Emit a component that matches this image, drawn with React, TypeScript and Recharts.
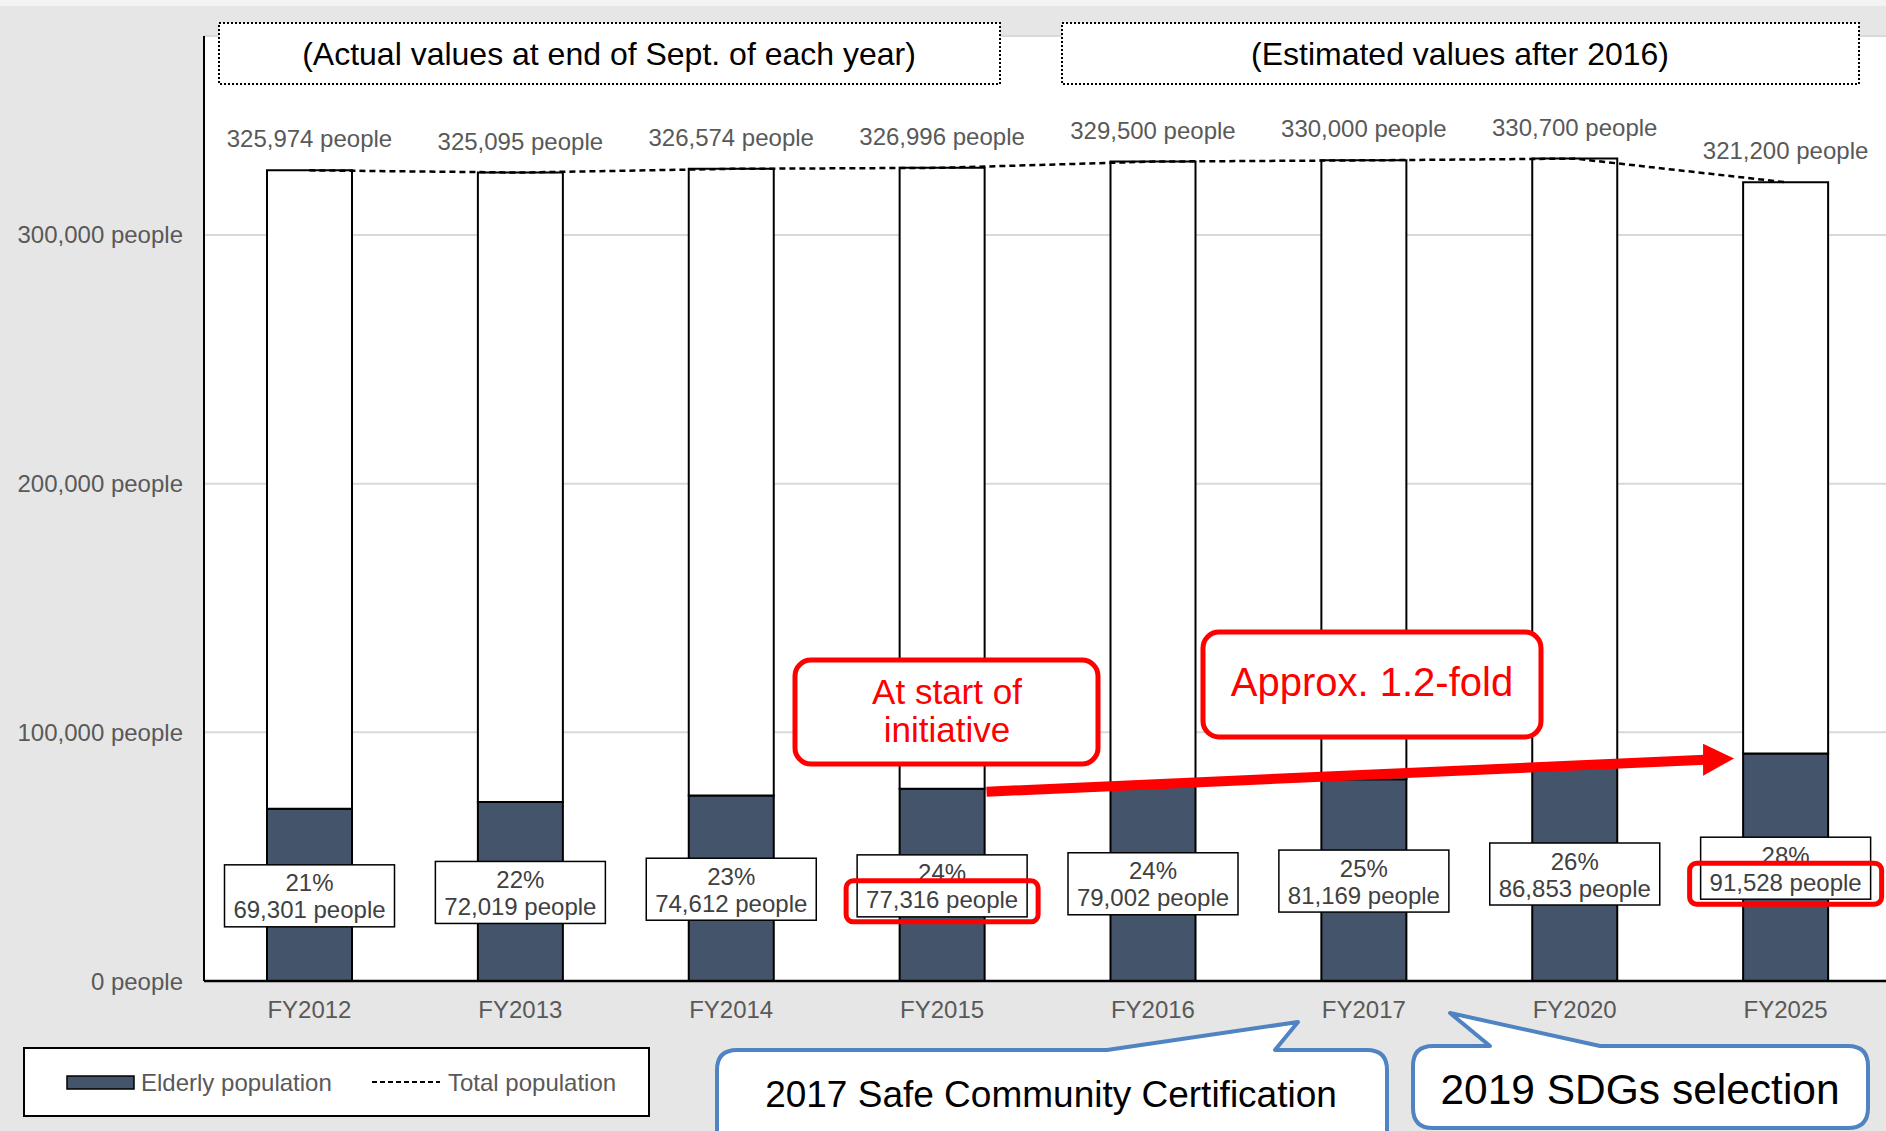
import React from "react";
import {
  ComposedChart,
  Bar,
  Line,
  XAxis,
  YAxis,
  CartesianGrid,
  LabelList,
  ReferenceLine,
} from "recharts";

const categories = ["FY2012", "FY2013", "FY2014", "FY2015", "FY2016", "FY2017", "FY2020", "FY2025"];
const totalPopulation = [325974, 325095, 326574, 326996, 329500, 330000, 330700, 321200];
const elderlyPopulation = [69301, 72019, 74612, 77316, 79002, 81169, 86853, 91528];
const elderlyShare = [21, 22, 23, 24, 24, 25, 26, 28];
const highlighted = ["FY2015", "FY2025"];
const yTicks = [0, 100000, 200000, 300000];

const FONT = "'Liberation Sans', Arial, Helvetica, sans-serif";
const DARK = "#44546a";
const GRAY_TEXT = "#595959";
const LABEL_TEXT = "#404040";
const BG = "#e6e6e6";
const BLUE = "#5083c2";
const BAR_SIZE = 85;

const data = categories.map((name, i) => ({
  name,
  elderly: elderlyPopulation[i],
  rest: totalPopulation[i] - elderlyPopulation[i],
  total: totalPopulation[i],
  share: elderlyShare[i],
}));

const fmt = (v: number) => `${v.toLocaleString("en-US")} people`;

// box with share + count, centred on the elderly segment
function ShareLabel(props: any) {
  const { x, y, width, height, index } = props;
  const d = data[index];
  if (!d) return null;
  const cx = x + width / 2;
  const cy = y + height / 2 + 1;
  const w = 170;
  const h = 62;
  return (
    <g>
      <rect x={cx - w / 2} y={cy - h / 2} width={w} height={h} fill="#fff" stroke="#000" strokeWidth={1.5} />
      <text x={cx} y={cy - 13} textAnchor="middle" dominantBaseline="central" fontSize={24} fill={LABEL_TEXT} fontFamily={FONT}>
        {`${d.share}%`}
      </text>
      <text x={cx} y={cy + 14} textAnchor="middle" dominantBaseline="central" fontSize={24} fill={LABEL_TEXT} fontFamily={FONT}>
        {fmt(d.elderly)}
      </text>
      {highlighted.includes(d.name) && (
        <rect x={cx - 96} y={cy - 5} width={192} height={41} rx={7} fill="none" stroke="#ff0000" strokeWidth={5} />
      )}
    </g>
  );
}

function GrowthArrow(props: any) {
  const { x1, y1, x2, y2 } = props;
  if (x1 == null || x2 == null) return null;
  const sx = x1 + BAR_SIZE / 2 + 2;
  const sy = y1 + 3;
  const tx = x2 - BAR_SIZE / 2 - 9;
  const ty = y2 + 5;
  const head = 31;
  const bx = tx - head;
  const by = sy + ((ty - sy) * (bx - sx)) / (tx - sx);
  return (
    <g>
      <line x1={sx} y1={sy} x2={bx + 2} y2={by} stroke="#ff0000" strokeWidth={10} />
      <polygon points={`${tx},${ty} ${bx},${by - 16} ${bx},${by + 16}`} fill="#ff0000" />
    </g>
  );
}

function Overlay() {
  return (
    <svg
      width={1886}
      height={1131}
      style={{ position: "absolute", left: 0, top: 0, pointerEvents: "none" }}
      fontFamily={FONT}
    >
      {/* header boxes */}
      <rect x={219} y={23} width={781} height={61} fill="#fff" stroke="#000" strokeWidth={2} strokeDasharray="2 2" />
      <text x={609} y={54} textAnchor="middle" dominantBaseline="central" fontSize={32} fill="#000">
        (Actual values at end of Sept. of each year)
      </text>
      <rect x={1062} y={23} width={797} height={61} fill="#fff" stroke="#000" strokeWidth={2} strokeDasharray="2 2" />
      <text x={1460} y={54} textAnchor="middle" dominantBaseline="central" fontSize={32} fill="#000">
        (Estimated values after 2016)
      </text>

      {/* red callouts */}
      <rect x={795} y={660} width={303} height={104} rx={16} fill="#fff" stroke="#ff0000" strokeWidth={5} />
      <text x={947} y={691} textAnchor="middle" dominantBaseline="central" fontSize={35} fill="#ff0000">
        At start of
      </text>
      <text x={947} y={729} textAnchor="middle" dominantBaseline="central" fontSize={35} fill="#ff0000">
        initiative
      </text>
      <rect x={1203} y={632} width={338} height={105} rx={16} fill="#fff" stroke="#ff0000" strokeWidth={5} />
      <text x={1372} y={682} textAnchor="middle" dominantBaseline="central" fontSize={40} fill="#ff0000">
        Approx. 1.2-fold
      </text>

      {/* legend */}
      <rect x={24} y={1048} width={625} height={68} fill="#fff" stroke="#000" strokeWidth={2} />
      <rect x={67} y={1076} width={67} height={13} fill={DARK} stroke="#000" strokeWidth={1.5} />
      <text x={141} y={1082} dominantBaseline="central" fontSize={24} fill={GRAY_TEXT}>
        Elderly population
      </text>
      <line x1={372} y1={1082} x2={440} y2={1082} stroke="#000" strokeWidth={2} strokeDasharray="5 3" />
      <text x={448} y={1082} dominantBaseline="central" fontSize={24} fill={GRAY_TEXT}>
        Total population
      </text>

      {/* blue callouts */}
      <path
        d="M 737 1050 L 1107 1050 L 1298 1022 L 1275 1050 L 1367 1050 Q 1387 1050 1387 1070 L 1387 1150 L 717 1150 L 717 1070 Q 717 1050 737 1050 Z"
        fill="#fff"
        stroke={BLUE}
        strokeWidth={4}
        strokeLinejoin="round"
      />
      <text x={1051} y={1094} textAnchor="middle" dominantBaseline="central" fontSize={37} fill="#000">
        2017 Safe Community Certification
      </text>
      <path
        d="M 1433 1046 L 1490 1046 L 1450 1013 L 1600 1046 L 1848 1046 Q 1868 1046 1868 1066 L 1868 1108 Q 1868 1128 1848 1128 L 1433 1128 Q 1413 1128 1413 1108 L 1413 1066 Q 1413 1046 1433 1046 Z"
        fill="#fff"
        stroke={BLUE}
        strokeWidth={4}
        strokeLinejoin="round"
      />
      <text x={1640} y={1089} textAnchor="middle" dominantBaseline="central" fontSize={42.5} fill="#000">
        2019 SDGs selection
      </text>
    </svg>
  );
}

export default function App() {
  return (
    <div style={{ position: "relative", width: 1886, height: 1131, background: BG, overflow: "hidden", fontFamily: FONT }}>
      <style>{`body{margin:0}`}</style>
      <div style={{ position: "absolute", left: 0, top: 0, width: 1886, height: 6, background: "#f3f3f3" }} />
      <ComposedChart
        width={1886}
        height={1131}
        data={data}
        margin={{ top: 36, right: -5, bottom: 90, left: 0 }}
        barSize={BAR_SIZE}
      >
        <CartesianGrid fill="#fff" vertical={false} stroke="#d9d9d9" strokeWidth={2} />
        <XAxis
          dataKey="name"
          height={60}
          tickLine={false}
          tickSize={0}
          tickMargin={20}
          axisLine={{ stroke: "#000", strokeWidth: 2.5 }}
          tick={{ fontSize: 24, fill: GRAY_TEXT, fontFamily: FONT }}
        />
        <YAxis
          width={204}
          domain={[0, 380000]}
          ticks={yTicks}
          tickFormatter={fmt}
          tickLine={false}
          tickSize={0}
          tickMargin={21}
          axisLine={{ stroke: "#000", strokeWidth: 2 }}
          tick={{ fontSize: 24, fill: GRAY_TEXT, fontFamily: FONT }}
        />
        <Bar dataKey="elderly" stackId="pop" fill={DARK} stroke="#000" strokeWidth={2} isAnimationActive={false}>
          <LabelList dataKey="elderly" content={ShareLabel} />
        </Bar>
        <Bar dataKey="rest" stackId="pop" fill="#fff" stroke="#000" strokeWidth={2} isAnimationActive={false} />
        <Line
          type="linear"
          dataKey="total"
          stroke="#000"
          strokeWidth={2.5}
          strokeDasharray="6 4"
          dot={false}
          activeDot={false}
          isAnimationActive={false}
        >
          <LabelList
            dataKey="total"
            position="top"
            offset={23}
            formatter={(v: any) => fmt(Number(v))}
            style={{ fontSize: 24, fill: GRAY_TEXT, fontFamily: FONT }}
          />
        </Line>
        <ReferenceLine
          segment={[
            { x: "FY2015", y: elderlyPopulation[3] },
            { x: "FY2025", y: elderlyPopulation[7] },
          ]}
          shape={GrowthArrow}
        />
      </ComposedChart>
      <Overlay />
    </div>
  );
}
